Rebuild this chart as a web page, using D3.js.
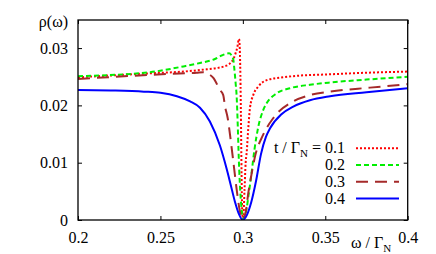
<!DOCTYPE html>
<html>
<head>
<meta charset="utf-8">
<script src="https://cdn.jsdelivr.net/npm/d3@7"></script>
</head>
<body style="margin:0">
<svg id="chart" width="436" height="254" font-family="Times New Roman, Liberation Serif, serif"></svg>
<script>
// ---- data ----
const xTicks = [0.2, 0.25, 0.3, 0.35, 0.4];
const xTickLabels = ["0.2", "0.25", "0.3", "0.35", "0.4"];
const yTicks = [0, 0.01, 0.02, 0.03];
const yTickLabels = ["0", "0.01", "0.02", "0.03"];

const seriesLabels = ["0.1", "0.2", "0.3", "0.4"];

const omega01 = [0.200, 0.2437, 0.2639, 0.2781, 0.2837, 0.2887, 0.2912, 0.2932, 0.2946, 0.2957, 0.2966, 0.2977, 0.2984, 0.2988, 0.2991, 0.2994, 0.2998, 0.3003, 0.3010, 0.3017, 0.3023, 0.3033, 0.3043, 0.3063, 0.3094, 0.3145, 0.3245, 0.3347, 0.3509, 0.3750, 0.400];
const rho01   = [0.0249, 0.0256, 0.0259, 0.0263, 0.0265, 0.0268, 0.0271, 0.0276, 0.0283, 0.0292, 0.0301, 0.0316, 0.0270, 0.0190, 0.0110, 0.0045, 0.0006, 0.0006, 0.0052, 0.0100, 0.0117, 0.0160, 0.0195, 0.0218, 0.0233, 0.0244, 0.0249, 0.0252, 0.0254, 0.0257, 0.0259];

const omega02 = [0.200, 0.2437, 0.2639, 0.2740, 0.2831, 0.2871, 0.2916, 0.2932, 0.2942, 0.2948, 0.2957, 0.2962, 0.2969, 0.2974, 0.2978, 0.2984, 0.2993, 0.3000, 0.3012, 0.3023, 0.3033, 0.3054, 0.3070, 0.3094, 0.3124, 0.3145, 0.3205, 0.3286, 0.3407, 0.3529, 0.3750, 0.400];
const rho02   = [0.0251, 0.0258, 0.0268, 0.0274, 0.0281, 0.0287, 0.0291, 0.0287, 0.0280, 0.0265, 0.0236, 0.0218, 0.0166, 0.0119, 0.0087, 0.0052, 0.0017, 0.0002, 0.0008, 0.0020, 0.0040, 0.0085, 0.0122, 0.0163, 0.0192, 0.0204, 0.0221, 0.0230, 0.0236, 0.0240, 0.0245, 0.0250];

const omega03 = [0.200, 0.2558, 0.2720, 0.2758, 0.2790, 0.2821, 0.2861, 0.2881, 0.2892, 0.2908, 0.2926, 0.2943, 0.2963, 0.2983, 0.2998, 0.3016, 0.3033, 0.3054, 0.3074, 0.3122, 0.3185, 0.3306, 0.3407, 0.3529, 0.3771, 0.400];
const rho03   = [0.0246, 0.0255, 0.0257, 0.0258, 0.0255, 0.0248, 0.0227, 0.0218, 0.0198, 0.0178, 0.0140, 0.0100, 0.0052, 0.0014, 0.0001, 0.0012, 0.0047, 0.0082, 0.0111, 0.0148, 0.0178, 0.0207, 0.0218, 0.0224, 0.0231, 0.0237];

const omega04 = [0.200, 0.220, 0.240, 0.250, 0.260, 0.268, 0.274, 0.280, 0.2861, 0.2902, 0.2925, 0.2952, 0.2977, 0.2999, 0.3025, 0.3050, 0.3080, 0.3110, 0.3140, 0.3165, 0.3236, 0.3306, 0.3407, 0.3529, 0.3750, 0.400];
const rho04   = [0.0227, 0.0226, 0.0224, 0.0222, 0.0216, 0.0207, 0.0196, 0.0172, 0.0130, 0.0089, 0.0063, 0.0032, 0.0010, 0.0000, 0.0009, 0.0030, 0.0068, 0.0115, 0.0145, 0.0160, 0.0185, 0.0198, 0.0209, 0.0216, 0.0223, 0.0230];

const omegaSets = [omega01, omega02, omega03, omega04];
const rhoSets = [rho01, rho02, rho03, rho04];

// ---- styles ----
const colors = ["#ff0000", "#00ee00", "#a52a2a", "#0000ff"];
const dashes = ["2,2", "5,3", "12,7", null];
const SERIF = "Times New Roman, Liberation Serif, serif";

// ---- layout ----
const svg = d3.select("#chart");
const L = 78, R = 407.7, T = 20, B = 220;

const x = d3.scaleLinear().domain([0.2, 0.4]).range([L, R]);
const y = d3.scaleLinear().domain([0, 0.0349]).range([B, T]);

const defs = svg.append("defs");
defs.append("clipPath").attr("id", "clip")
  .append("rect").attr("x", L).attr("y", T).attr("width", R - L).attr("height", B - T);

const fmtX = d => xTickLabels[xTicks.indexOf(d)];
const fmtY = d => yTickLabels[yTicks.indexOf(d)];

function styleAxis(g) {
  g.select(".domain").remove();
  g.attr("font-family", SERIF).attr("font-size", 16);
  g.selectAll("text").attr("font-family", SERIF).attr("font-size", 16).attr("fill", "#000");
  g.selectAll("line").attr("stroke", "#000");
}

svg.append("g").attr("transform", `translate(0,${B})`)
  .call(d3.axisBottom(x).tickValues(xTicks).tickFormat(fmtX).tickSizeInner(-4).tickSizeOuter(0).tickPadding(12))
  .call(styleAxis);

svg.append("g").attr("transform", `translate(0,${T})`)
  .call(d3.axisTop(x).tickValues(xTicks).tickFormat("").tickSizeInner(-4).tickSizeOuter(0))
  .call(styleAxis);

svg.append("g").attr("transform", `translate(${L},0)`)
  .call(d3.axisLeft(y).tickValues(yTicks).tickFormat(fmtY).tickSizeInner(-4).tickSizeOuter(0).tickPadding(10))
  .call(styleAxis);

svg.append("g").attr("transform", `translate(${R},0)`)
  .call(d3.axisRight(y).tickValues(yTicks).tickFormat("").tickSizeInner(-4).tickSizeOuter(0))
  .call(styleAxis);

// curves
const line = d3.line().x(d => x(d[0])).y(d => y(d[1])).curve(d3.curveMonotoneX);
const plot = svg.append("g").attr("clip-path", "url(#clip)");
omegaSets.forEach((om, k) => {
  const pts = om.map((w, i) => [w, rhoSets[k][i]]);
  plot.append("path").datum(pts)
    .attr("d", line)
    .attr("fill", "none")
    .attr("stroke", colors[k])
    .attr("stroke-width", 2)
    .attr("stroke-dasharray", dashes[k]);
});

// frame
svg.append("rect").attr("x", L).attr("y", T).attr("width", R - L).attr("height", B - T)
  .attr("fill", "none").attr("stroke", "#000").attr("stroke-width", 1.3);

// axis labels
function txt(xp, yp, anchor) {
  return svg.append("text").attr("x", xp).attr("y", yp).attr("text-anchor", anchor)
    .attr("fill", "#000").attr("font-family", SERIF).attr("font-size", 16);
}
txt(68, 27, "end").text("ρ(ω)");

const xl = txt(351, 248, "start");
xl.append("tspan").text("ω / Γ");
xl.append("tspan").attr("dy", 4).attr("font-size", 11).text("N");

// legend
const legY = [148.3, 165, 181.7, 198.5];
seriesLabels.forEach((lab, k) => {
  const t = txt(345, legY[k] + 5, "end");
  if (k === 0) {
    t.append("tspan").text("t / Γ");
    t.append("tspan").attr("dy", 4).attr("font-size", 11).text("N");
    t.append("tspan").attr("dy", -4).text(" = " + lab);
  } else {
    t.text(lab);
  }
  svg.append("line").attr("x1", 356).attr("x2", 399).attr("y1", legY[k]).attr("y2", legY[k])
    .attr("stroke", colors[k]).attr("stroke-width", 2).attr("stroke-dasharray", dashes[k]);
});
</script>
</body>
</html>
